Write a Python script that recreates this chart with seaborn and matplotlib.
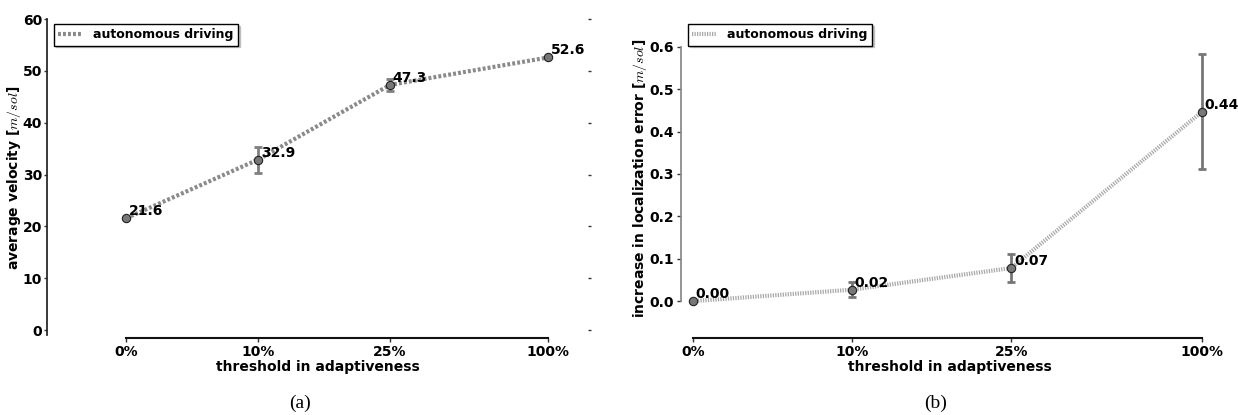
import numpy as np
import matplotlib
matplotlib.use("Agg")
import matplotlib.pyplot as plt
import seaborn as sns

categories = ["0%", "10%", "25%", "100%"]
cat_pos = [0, 1, 2, 3.2]

velocity = [21.6, 32.9, 47.3, 52.6]
velocity_err = [0.0, 2.5, 1.2, 0.0]

loc_err = [0.0, 0.027, 0.078, 0.447]
loc_err_err = [0.0, 0.017, 0.033, 0.135]
loc_labels = ["0.00", "0.02", "0.07", "0.44"]

series_name = "autonomous driving"

sns.set_theme(style="ticks")
plt.rcParams['font.family'] = ['DejaVu Sans']
plt.rcParams['mathtext.fontset'] = 'cm'
plt.rcParams['font.weight'] = 'bold'
for k in ['text.color', 'axes.labelcolor', 'xtick.color', 'ytick.color']:
    plt.rcParams[k] = 'black'

W, H = 1238, 415
fig = plt.figure(figsize=(W / 100, H / 100), dpi=100)
axa = fig.add_axes([47 / W, 77 / H, 541 / W, 320 / H])
axb = fig.add_axes([681 / W, 77 / H, 537 / W, 320 / H])

FS = 10


def draw(ax, y, yerr, labels, color, ls, lw, ecolor, ax_w):
    sns.lineplot(x=cat_pos, y=y, ax=ax, color=color, linestyle=ls, linewidth=lw,
                 label=series_name, legend=False, zorder=2)
    ax.errorbar(cat_pos, y, yerr=yerr, fmt='none', ecolor=ecolor, elinewidth=2,
                capsize=3, capthick=2, zorder=3)
    ax.plot(cat_pos, y, linestyle='none', marker='o', markersize=6,
            markerfacecolor='#777777', markeredgecolor='#222222', markeredgewidth=0.8, zorder=4)
    for xp, yp, lab in zip(cat_pos, y, labels):
        ax.annotate(lab, (xp, yp), xytext=(2, 0), textcoords='offset points',
                    ha='left', va='bottom', fontsize=FS, fontweight='bold', zorder=5)
    leg = ax.legend(loc='upper left', bbox_to_anchor=(7 / ax_w, 1 - 6 / 320),
                    borderaxespad=0, frameon=True, fancybox=False,
                    shadow={'ox': 1.2, 'oy': -1.2, 'color': '#999999'},
                    handlelength=2.0, borderpad=0.35,
                    prop={'weight': 'bold', 'size': 9})
    leg.get_frame().set_edgecolor('black')
    leg.get_frame().set_linewidth(1.0)
    ax.set_xticks(cat_pos)
    ax.set_xticklabels(categories)
    ax.set_xlabel("threshold in adaptiveness", fontsize=FS, fontweight='bold', labelpad=1)
    for t in ax.get_xticklabels() + ax.get_yticklabels():
        t.set_fontweight('bold')
        t.set_fontsize(FS)
    ax.spines['top'].set_visible(False)
    ax.spines['right'].set_visible(False)
    ax.spines['bottom'].set_bounds(cat_pos[0], cat_pos[-1])
    ax.spines['bottom'].set_linewidth(1.5)
    ax.spines['bottom'].set_color('#111111')
    ax.tick_params(axis='both', length=3, width=1, pad=2, color='#333333')
    ax.grid(False)


# panel (a)
draw(axa, velocity, velocity_err, [f"{v:.1f}" for v in velocity],
     '#8a8a8a', (0, (0.7, 0.5)), 3.0, '#808080', 541)
axa.set_xlim(-0.6, 3.5)
axa.set_ylim(-1.5, 60.2)
axa.set_yticks([0, 10, 20, 30, 40, 50, 60])
for t in axa.get_yticklabels():
    t.set_fontweight('bold')
    t.set_fontsize(FS)
axa.set_ylabel(r"average velocity [$m/sol$]", fontsize=FS, fontweight='bold', labelpad=0)
axa.spines['left'].set_bounds(-1, 60)
axa.spines['left'].set_color('#222222')
axa.tick_params(axis='y', which='major', right=True, length=2, pad=1.5)

# panel (b)
draw(axb, loc_err, loc_err_err, loc_labels,
     '#a8a8a8', (0, (0.3, 0.3)), 3.0, '#777777', 537)
axb.set_xlim(-0.075, 3.3)
axb.set_ylim(-0.087, 0.668)
axb.set_yticks([0.0, 0.1, 0.2, 0.3, 0.4, 0.5, 0.6])
axb.set_yticklabels([f"{v:.1f}" for v in [0.0, 0.1, 0.2, 0.3, 0.4, 0.5, 0.6]])
for t in axb.get_yticklabels():
    t.set_fontweight('bold')
    t.set_fontsize(FS)
axb.set_ylabel(r"increase in localization error [$m/sol$]", fontsize=FS, fontweight='bold', labelpad=0)
axb.spines['left'].set_bounds(0, 0.6)
axb.spines['left'].set_color('#888888')

fig.text(300 / W, 1 - 403 / H, "(a)", ha='center', va='center',
         fontsize=14, family='Liberation Serif', fontweight='normal')
fig.text(936 / W, 1 - 403 / H, "(b)", ha='center', va='center',
         fontsize=14, family='Liberation Serif', fontweight='normal')

fig.savefig("out.png", dpi=100)
